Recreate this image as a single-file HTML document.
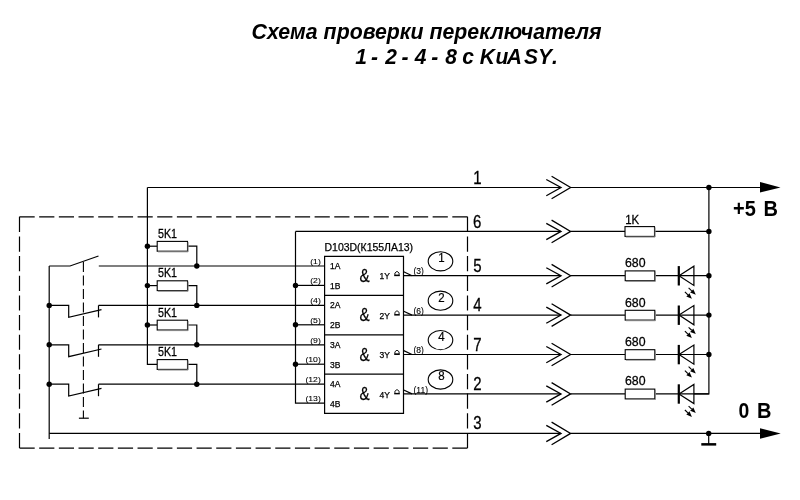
<!DOCTYPE html><html><head><meta charset="utf-8"><style>html,body{margin:0;padding:0;background:#fff;}svg{display:block;will-change:transform;}</style></head><body><svg width="800" height="500" viewBox="0 0 800 500">
<rect width="800" height="500" fill="#fff"/>
<text transform="translate(251.6,39.3) scale(1,1.07)" font-family="Liberation Sans" font-weight="bold" font-style="italic" font-size="21" textLength="350" lengthAdjust="spacingAndGlyphs">Схема проверки переключателя</text>
<text transform="translate(0,63.5) scale(1.0,1.05)" x="355.16 365.16 370.93 380.93 385.34 395.34 401.43 411.43 414.74 424.74 431.33 441.33 445.13 455.13 462.25 472.25 479.82 495.52 506.82 523.95 537.94 551.92" font-family="Liberation Sans" font-weight="bold" font-style="italic" font-size="21">1 - 2 - 4 - 8 с KuASY.</text>
<g fill="none" stroke="#000" stroke-width="1.2">
<path d="M19.5,216.8 H467.5" stroke-dasharray="15.2 4.473"/>
<path d="M19.5,448.1 H467.5" stroke-dasharray="15.2 4.473"/>
<path d="M19.5,216.8 V448.1" stroke-dasharray="15.2 4.445"/>
<path d="M467.5,216.8 V448.1" stroke-dasharray="15.2 4.445"/>
</g>
<path d="M83.4,262 V418.2" fill="none" stroke="#000" stroke-width="1.1" stroke-dasharray="10 3.5"/>
<g fill="none" stroke="#000" stroke-width="1.2"><path d="M49.2,266 V438.9"/><path d="M78.9,418.2 H88.8"/><path d="M49.2,266 H70 L98.5,256"/><path d="M49.2,305.4 H68.7 V317.29999999999995 L101.5,309.59999999999997"/><path d="M98.5,305.4 V317.4"/><path d="M49.2,344.8 H68.7 V356.7 L101.5,349.0"/><path d="M98.5,344.8 V356.8"/><path d="M49.2,384.2 H68.7 V396.09999999999997 L101.5,388.4"/><path d="M98.5,384.2 V396.2"/><path d="M98.8,266.0 H324.6"/><path d="M98.5,305.4 H324.6"/><path d="M98.5,344.8 H324.6"/><path d="M98.5,384.2 H324.6"/><path d="M147.4,187.5 V364.4 H157.2"/><path d="M147.4,246.2 H157.2"/><path d="M147.4,285.6 H157.2"/><path d="M147.4,325.0 H157.2"/><path d="M187.5,246.2 H196.8 V266.0"/><path d="M187.5,285.6 H196.8 V305.4"/><path d="M187.5,325.0 H196.8 V344.8"/><path d="M187.5,364.4 H196.8 V384.2"/><path d="M147.4,187.5 H561"/><path d="M570.6,187.5 H760"/><path d="M295.5,231.4 H561"/><path d="M570.6,231.4 H625"/><path d="M654.5,231.4 H708.9"/><path d="M295.5,231.4 V403.2 H324.6"/><path d="M295.5,285.4 H324.6"/><path d="M295.5,324.8 H324.6"/><path d="M295.5,364.2 H324.6"/><path d="M324.6,256.4 H403.5 V413.4 H324.6 Z"/><path d="M324.6,295.4 H403.5"/><path d="M324.6,334.8 H403.5"/><path d="M324.6,374.2 H403.5"/><path d="M403.5,275.7 H561"/><path d="M570.6,275.7 H625.2"/><path d="M654.8,275.7 H708.9"/><path d="M403.7,271.8 L412,275.7"/><path d="M403.5,315.1 H561"/><path d="M570.6,315.1 H625.2"/><path d="M654.8,315.1 H708.9"/><path d="M403.7,311.20000000000005 L412,315.1"/><path d="M403.5,354.5 H561"/><path d="M570.6,354.5 H625.2"/><path d="M654.8,354.5 H708.9"/><path d="M403.7,350.6 L412,354.5"/><path d="M403.5,393.9 H561"/><path d="M570.6,393.9 H625.2"/><path d="M654.8,393.9 H708.9"/><path d="M403.7,390.0 L412,393.9"/><path d="M708.9,187.5 V393.9 H693.9"/><path d="M49.2,433.4 H561"/><path d="M570.6,433.4 H760"/><path d="M708.7,433.4 V444"/></g>
<g fill="none" stroke="#000" stroke-width="1.3"><path d="M546.3,179.5 L561,187.5 L546.3,195.7"/><path d="M551.6,176.2 L570.6,187.5 L551.6,198.8"/><path d="M546.3,223.4 L561,231.4 L546.3,239.6"/><path d="M551.6,220.1 L570.6,231.4 L551.6,242.70000000000002"/><path d="M546.3,267.7 L561,275.7 L546.3,283.9"/><path d="M551.6,264.4 L570.6,275.7 L551.6,287.0"/><path d="M546.3,307.1 L561,315.1 L546.3,323.3"/><path d="M551.6,303.8 L570.6,315.1 L551.6,326.40000000000003"/><path d="M546.3,346.5 L561,354.5 L546.3,362.7"/><path d="M551.6,343.2 L570.6,354.5 L551.6,365.8"/><path d="M546.3,385.9 L561,393.9 L546.3,402.09999999999997"/><path d="M551.6,382.59999999999997 L570.6,393.9 L551.6,405.2"/><path d="M546.3,425.4 L561,433.4 L546.3,441.59999999999997"/><path d="M551.6,422.09999999999997 L570.6,433.4 L551.6,444.7"/></g>
<path d="M760,182 L780.5,187.4 L760,192.6 Z" fill="#000"/>
<path d="M760,428.2 L780.7,433.4 L760,438.7 Z" fill="#000"/>
<rect x="701.3" y="443.1" width="14.9" height="2.5" fill="#000"/>
<g fill="#000"><circle cx="49.2" cy="305.4" r="2.7"/><circle cx="49.2" cy="344.8" r="2.7"/><circle cx="49.2" cy="384.2" r="2.7"/><circle cx="147.4" cy="246.2" r="2.7"/><circle cx="147.4" cy="285.6" r="2.7"/><circle cx="147.4" cy="325.0" r="2.7"/><circle cx="196.8" cy="266.0" r="2.7"/><circle cx="196.8" cy="305.4" r="2.7"/><circle cx="196.8" cy="344.8" r="2.7"/><circle cx="196.8" cy="384.2" r="2.7"/><circle cx="295.5" cy="285.4" r="2.7"/><circle cx="295.5" cy="324.8" r="2.7"/><circle cx="295.5" cy="364.2" r="2.7"/><circle cx="708.9" cy="187.5" r="2.7"/><circle cx="708.9" cy="231.4" r="2.7"/><circle cx="708.9" cy="275.7" r="2.7"/><circle cx="708.9" cy="315.1" r="2.7"/><circle cx="708.9" cy="354.5" r="2.7"/><circle cx="708.7" cy="433.4" r="2.7"/></g>
<rect x="157.2" y="241.39999999999998" width="30.30000000000001" height="9.8" fill="#fff" stroke="#000" stroke-width="1.1"/><path d="M158.0,251.79999999999998 H188.1 V242.2" fill="none" stroke="#888" stroke-width="1"/>
<rect x="157.2" y="280.8" width="30.30000000000001" height="9.8" fill="#fff" stroke="#000" stroke-width="1.1"/><path d="M158.0,291.20000000000005 H188.1 V281.6" fill="none" stroke="#888" stroke-width="1"/>
<rect x="157.2" y="320.2" width="30.30000000000001" height="9.8" fill="#fff" stroke="#000" stroke-width="1.1"/><path d="M158.0,330.6 H188.1 V321.0" fill="none" stroke="#888" stroke-width="1"/>
<rect x="157.2" y="359.59999999999997" width="30.30000000000001" height="9.8" fill="#fff" stroke="#000" stroke-width="1.1"/><path d="M158.0,370.0 H188.1 V360.4" fill="none" stroke="#888" stroke-width="1"/>
<rect x="625" y="226.6" width="29.5" height="9.8" fill="#fff" stroke="#000" stroke-width="1.1"/><path d="M625.8,237.0 H655.1 V227.4" fill="none" stroke="#888" stroke-width="1"/>
<rect x="625.2" y="270.9" width="29.59999999999991" height="9.8" fill="#fff" stroke="#000" stroke-width="1.1"/><path d="M626.0,281.3 H655.4 V271.7" fill="none" stroke="#888" stroke-width="1"/>
<rect x="625.2" y="310.3" width="29.59999999999991" height="9.8" fill="#fff" stroke="#000" stroke-width="1.1"/><path d="M626.0,320.70000000000005 H655.4 V311.1" fill="none" stroke="#888" stroke-width="1"/>
<rect x="625.2" y="349.7" width="29.59999999999991" height="9.8" fill="#fff" stroke="#000" stroke-width="1.1"/><path d="M626.0,360.1 H655.4 V350.5" fill="none" stroke="#888" stroke-width="1"/>
<rect x="625.2" y="389.09999999999997" width="29.59999999999991" height="9.8" fill="#fff" stroke="#000" stroke-width="1.1"/><path d="M626.0,399.5 H655.4 V389.9" fill="none" stroke="#888" stroke-width="1"/>
<path d="M679,275.7 L693.9,266.2 V285.4 Z" fill="none" stroke="#000" stroke-width="1.2"/>
<rect x="677.7" y="266.09999999999997" width="2.2" height="19.4" fill="#000"/>
<path d="M688.60,287.90 L691.73,290.85" stroke="#000" stroke-width="1.1"/>
<path d="M695.80,294.70 L690.15,292.53 L693.31,289.18 Z" fill="#000"/>
<path d="M684.90,291.80 L687.91,294.77" stroke="#000" stroke-width="1.1"/>
<path d="M691.90,298.70 L686.30,296.41 L689.53,293.13 Z" fill="#000"/>
<path d="M679,315.1 L693.9,305.6 V324.8 Z" fill="none" stroke="#000" stroke-width="1.2"/>
<rect x="677.7" y="305.5" width="2.2" height="19.4" fill="#000"/>
<path d="M688.60,327.30 L691.73,330.25" stroke="#000" stroke-width="1.1"/>
<path d="M695.80,334.10 L690.15,331.93 L693.31,328.58 Z" fill="#000"/>
<path d="M684.90,331.20 L687.91,334.17" stroke="#000" stroke-width="1.1"/>
<path d="M691.90,338.10 L686.30,335.81 L689.53,332.53 Z" fill="#000"/>
<path d="M679,354.5 L693.9,345.0 V364.2 Z" fill="none" stroke="#000" stroke-width="1.2"/>
<rect x="677.7" y="344.9" width="2.2" height="19.4" fill="#000"/>
<path d="M688.60,366.70 L691.73,369.65" stroke="#000" stroke-width="1.1"/>
<path d="M695.80,373.50 L690.15,371.33 L693.31,367.98 Z" fill="#000"/>
<path d="M684.90,370.60 L687.91,373.57" stroke="#000" stroke-width="1.1"/>
<path d="M691.90,377.50 L686.30,375.21 L689.53,371.93 Z" fill="#000"/>
<path d="M679,393.9 L693.9,384.4 V403.59999999999997 Z" fill="none" stroke="#000" stroke-width="1.2"/>
<rect x="677.7" y="384.29999999999995" width="2.2" height="19.4" fill="#000"/>
<path d="M688.60,406.10 L691.73,409.05" stroke="#000" stroke-width="1.1"/>
<path d="M695.80,412.90 L690.15,410.73 L693.31,407.38 Z" fill="#000"/>
<path d="M684.90,410.00 L687.91,412.97" stroke="#000" stroke-width="1.1"/>
<path d="M691.90,416.90 L686.30,414.61 L689.53,411.33 Z" fill="#000"/>
<ellipse cx="440.5" cy="261.3" rx="12.3" ry="9.6" fill="none" stroke="#000" stroke-width="1.1"/>
<text transform="translate(441.5,262.2) scale(1,1.17)" text-anchor="middle" font-family="Liberation Sans" stroke="#000" stroke-width="0.2" font-size="11.5">1</text>
<ellipse cx="440.5" cy="300.70000000000005" rx="12.3" ry="9.6" fill="none" stroke="#000" stroke-width="1.1"/>
<text transform="translate(441.5,301.6) scale(1,1.17)" text-anchor="middle" font-family="Liberation Sans" stroke="#000" stroke-width="0.2" font-size="11.5">2</text>
<ellipse cx="440.5" cy="340.1" rx="12.3" ry="9.6" fill="none" stroke="#000" stroke-width="1.1"/>
<text transform="translate(441.5,341.0) scale(1,1.17)" text-anchor="middle" font-family="Liberation Sans" stroke="#000" stroke-width="0.2" font-size="11.5">4</text>
<ellipse cx="440.5" cy="379.5" rx="12.3" ry="9.6" fill="none" stroke="#000" stroke-width="1.1"/>
<text transform="translate(441.5,380.4) scale(1,1.17)" text-anchor="middle" font-family="Liberation Sans" stroke="#000" stroke-width="0.2" font-size="11.5">8</text>
<text transform="translate(473.2,183.6) scale(1,1.2)" font-family="Liberation Sans" stroke="#000" stroke-width="0.25" font-size="15">1</text>
<text transform="translate(473.0,227.6) scale(1,1.2)" font-family="Liberation Sans" stroke="#000" stroke-width="0.25" font-size="15">6</text>
<text transform="translate(473.2,271.8) scale(1,1.2)" font-family="Liberation Sans" stroke="#000" stroke-width="0.25" font-size="15">5</text>
<text transform="translate(473.2,311.20000000000005) scale(1,1.2)" font-family="Liberation Sans" stroke="#000" stroke-width="0.25" font-size="15">4</text>
<text transform="translate(473.2,350.6) scale(1,1.2)" font-family="Liberation Sans" stroke="#000" stroke-width="0.25" font-size="15">7</text>
<text transform="translate(473.2,390.0) scale(1,1.2)" font-family="Liberation Sans" stroke="#000" stroke-width="0.25" font-size="15">2</text>
<text transform="translate(473.2,429.4) scale(1,1.2)" font-family="Liberation Sans" stroke="#000" stroke-width="0.25" font-size="15">3</text>
<text transform="translate(158,237.7) scale(0.97,1.08)" font-family="Liberation Sans" stroke="#000" stroke-width="0.25" font-size="11">5K1</text>
<text transform="translate(158,277.1) scale(0.97,1.08)" font-family="Liberation Sans" stroke="#000" stroke-width="0.25" font-size="11">5K1</text>
<text transform="translate(158,316.5) scale(0.97,1.08)" font-family="Liberation Sans" stroke="#000" stroke-width="0.25" font-size="11">5K1</text>
<text transform="translate(158,355.9) scale(0.97,1.08)" font-family="Liberation Sans" stroke="#000" stroke-width="0.25" font-size="11">5K1</text>
<text transform="translate(625.2,223.5) scale(1.04,1.17)" font-family="Liberation Sans" stroke="#000" stroke-width="0.25" font-size="11">1K</text>
<text transform="translate(625,267.2) scale(1,1.08)" font-family="Liberation Sans" stroke="#000" stroke-width="0.25" font-size="11.6" textLength="20.6" lengthAdjust="spacingAndGlyphs">680</text>
<text transform="translate(625,306.6) scale(1,1.08)" font-family="Liberation Sans" stroke="#000" stroke-width="0.25" font-size="11.6" textLength="20.6" lengthAdjust="spacingAndGlyphs">680</text>
<text transform="translate(625,346.0) scale(1,1.08)" font-family="Liberation Sans" stroke="#000" stroke-width="0.25" font-size="11.6" textLength="20.6" lengthAdjust="spacingAndGlyphs">680</text>
<text transform="translate(625,385.4) scale(1,1.08)" font-family="Liberation Sans" stroke="#000" stroke-width="0.25" font-size="11.6" textLength="20.6" lengthAdjust="spacingAndGlyphs">680</text>
<text transform="translate(733,215.9) scale(1,1.07)" font-family="Liberation Sans" font-weight="bold" font-size="20">+5</text>
<text transform="translate(763.6,215.9) scale(1,1.07)" font-family="Liberation Sans" font-weight="bold" font-size="20">B</text>
<text transform="translate(738.6,418.3) scale(0.97,1.1)" font-family="Liberation Sans" font-weight="bold" font-size="20">0</text>
<text transform="translate(757,418.3) scale(1,1.1)" font-family="Liberation Sans" font-weight="bold" font-size="20">B</text>
<text x="324.5" y="251.4" font-family="Liberation Sans" stroke="#000" stroke-width="0.25" font-size="10.2" textLength="88.6" lengthAdjust="spacingAndGlyphs">D103D(К155ЛА13)</text>
<text transform="translate(320.8,264.0) scale(1.02,0.86)" text-anchor="end" font-family="Liberation Sans" stroke="#000" stroke-width="0.1" font-size="8.5">(1)</text>
<text transform="translate(320.8,283.4) scale(1.02,0.86)" text-anchor="end" font-family="Liberation Sans" stroke="#000" stroke-width="0.1" font-size="8.5">(2)</text>
<text transform="translate(320.8,303.4) scale(1.02,0.86)" text-anchor="end" font-family="Liberation Sans" stroke="#000" stroke-width="0.1" font-size="8.5">(4)</text>
<text transform="translate(320.8,322.8) scale(1.02,0.86)" text-anchor="end" font-family="Liberation Sans" stroke="#000" stroke-width="0.1" font-size="8.5">(5)</text>
<text transform="translate(320.8,342.8) scale(1.02,0.86)" text-anchor="end" font-family="Liberation Sans" stroke="#000" stroke-width="0.1" font-size="8.5">(9)</text>
<text transform="translate(320.8,362.2) scale(1.02,0.86)" text-anchor="end" font-family="Liberation Sans" stroke="#000" stroke-width="0.1" font-size="8.5">(10)</text>
<text transform="translate(320.8,382.2) scale(1.02,0.86)" text-anchor="end" font-family="Liberation Sans" stroke="#000" stroke-width="0.1" font-size="8.5">(12)</text>
<text transform="translate(320.8,401.2) scale(1.02,0.86)" text-anchor="end" font-family="Liberation Sans" stroke="#000" stroke-width="0.1" font-size="8.5">(13)</text>
<text x="330" y="269.0" font-family="Liberation Sans" stroke="#000" stroke-width="0.25" font-size="8.5">1A</text>
<text x="330" y="288.79999999999995" font-family="Liberation Sans" stroke="#000" stroke-width="0.25" font-size="8.5">1B</text>
<text transform="translate(359.6,282.0) scale(0.92,1.08)" font-family="Liberation Sans" stroke="#000" stroke-width="0.25" font-size="16.5">&amp;</text>
<text x="379.5" y="279.4" font-family="Liberation Sans" stroke="#000" stroke-width="0.25" font-size="8.5">1Y</text>
<path d="M394.9,275.2 H399.1 V273.0 L397,271.3 L394.9,273.0 Z" fill="none" stroke="#000" stroke-width="0.9"/>
<path d="M394.2,275.5 H399.8" stroke="#000" stroke-width="1.3"/>
<text x="330" y="308.4" font-family="Liberation Sans" stroke="#000" stroke-width="0.25" font-size="8.5">2A</text>
<text x="330" y="328.19999999999993" font-family="Liberation Sans" stroke="#000" stroke-width="0.25" font-size="8.5">2B</text>
<text transform="translate(359.6,321.4) scale(0.92,1.08)" font-family="Liberation Sans" stroke="#000" stroke-width="0.25" font-size="16.5">&amp;</text>
<text x="379.5" y="318.79999999999995" font-family="Liberation Sans" stroke="#000" stroke-width="0.25" font-size="8.5">2Y</text>
<path d="M394.9,314.59999999999997 H399.1 V312.4 L397,310.7 L394.9,312.4 Z" fill="none" stroke="#000" stroke-width="0.9"/>
<path d="M394.2,314.9 H399.8" stroke="#000" stroke-width="1.3"/>
<text x="330" y="347.8" font-family="Liberation Sans" stroke="#000" stroke-width="0.25" font-size="8.5">3A</text>
<text x="330" y="367.59999999999997" font-family="Liberation Sans" stroke="#000" stroke-width="0.25" font-size="8.5">3B</text>
<text transform="translate(359.6,360.8) scale(0.92,1.08)" font-family="Liberation Sans" stroke="#000" stroke-width="0.25" font-size="16.5">&amp;</text>
<text x="379.5" y="358.2" font-family="Liberation Sans" stroke="#000" stroke-width="0.25" font-size="8.5">3Y</text>
<path d="M394.9,354.0 H399.1 V351.8 L397,350.1 L394.9,351.8 Z" fill="none" stroke="#000" stroke-width="0.9"/>
<path d="M394.2,354.3 H399.8" stroke="#000" stroke-width="1.3"/>
<text x="330" y="387.2" font-family="Liberation Sans" stroke="#000" stroke-width="0.25" font-size="8.5">4A</text>
<text x="330" y="406.99999999999994" font-family="Liberation Sans" stroke="#000" stroke-width="0.25" font-size="8.5">4B</text>
<text transform="translate(359.6,400.2) scale(0.92,1.08)" font-family="Liberation Sans" stroke="#000" stroke-width="0.25" font-size="16.5">&amp;</text>
<text x="379.5" y="397.59999999999997" font-family="Liberation Sans" stroke="#000" stroke-width="0.25" font-size="8.5">4Y</text>
<path d="M394.9,393.4 H399.1 V391.2 L397,389.5 L394.9,391.2 Z" fill="none" stroke="#000" stroke-width="0.9"/>
<path d="M394.2,393.7 H399.8" stroke="#000" stroke-width="1.3"/>
<text x="413.5" y="274.3" font-family="Liberation Sans" stroke="#000" stroke-width="0.1" font-size="8.5">(3)</text>
<text x="413.5" y="313.70000000000005" font-family="Liberation Sans" stroke="#000" stroke-width="0.1" font-size="8.5">(6)</text>
<text x="413.5" y="353.1" font-family="Liberation Sans" stroke="#000" stroke-width="0.1" font-size="8.5">(8)</text>
<text x="413.5" y="392.5" font-family="Liberation Sans" stroke="#000" stroke-width="0.1" font-size="8.5">(11)</text>
</svg></body></html>
